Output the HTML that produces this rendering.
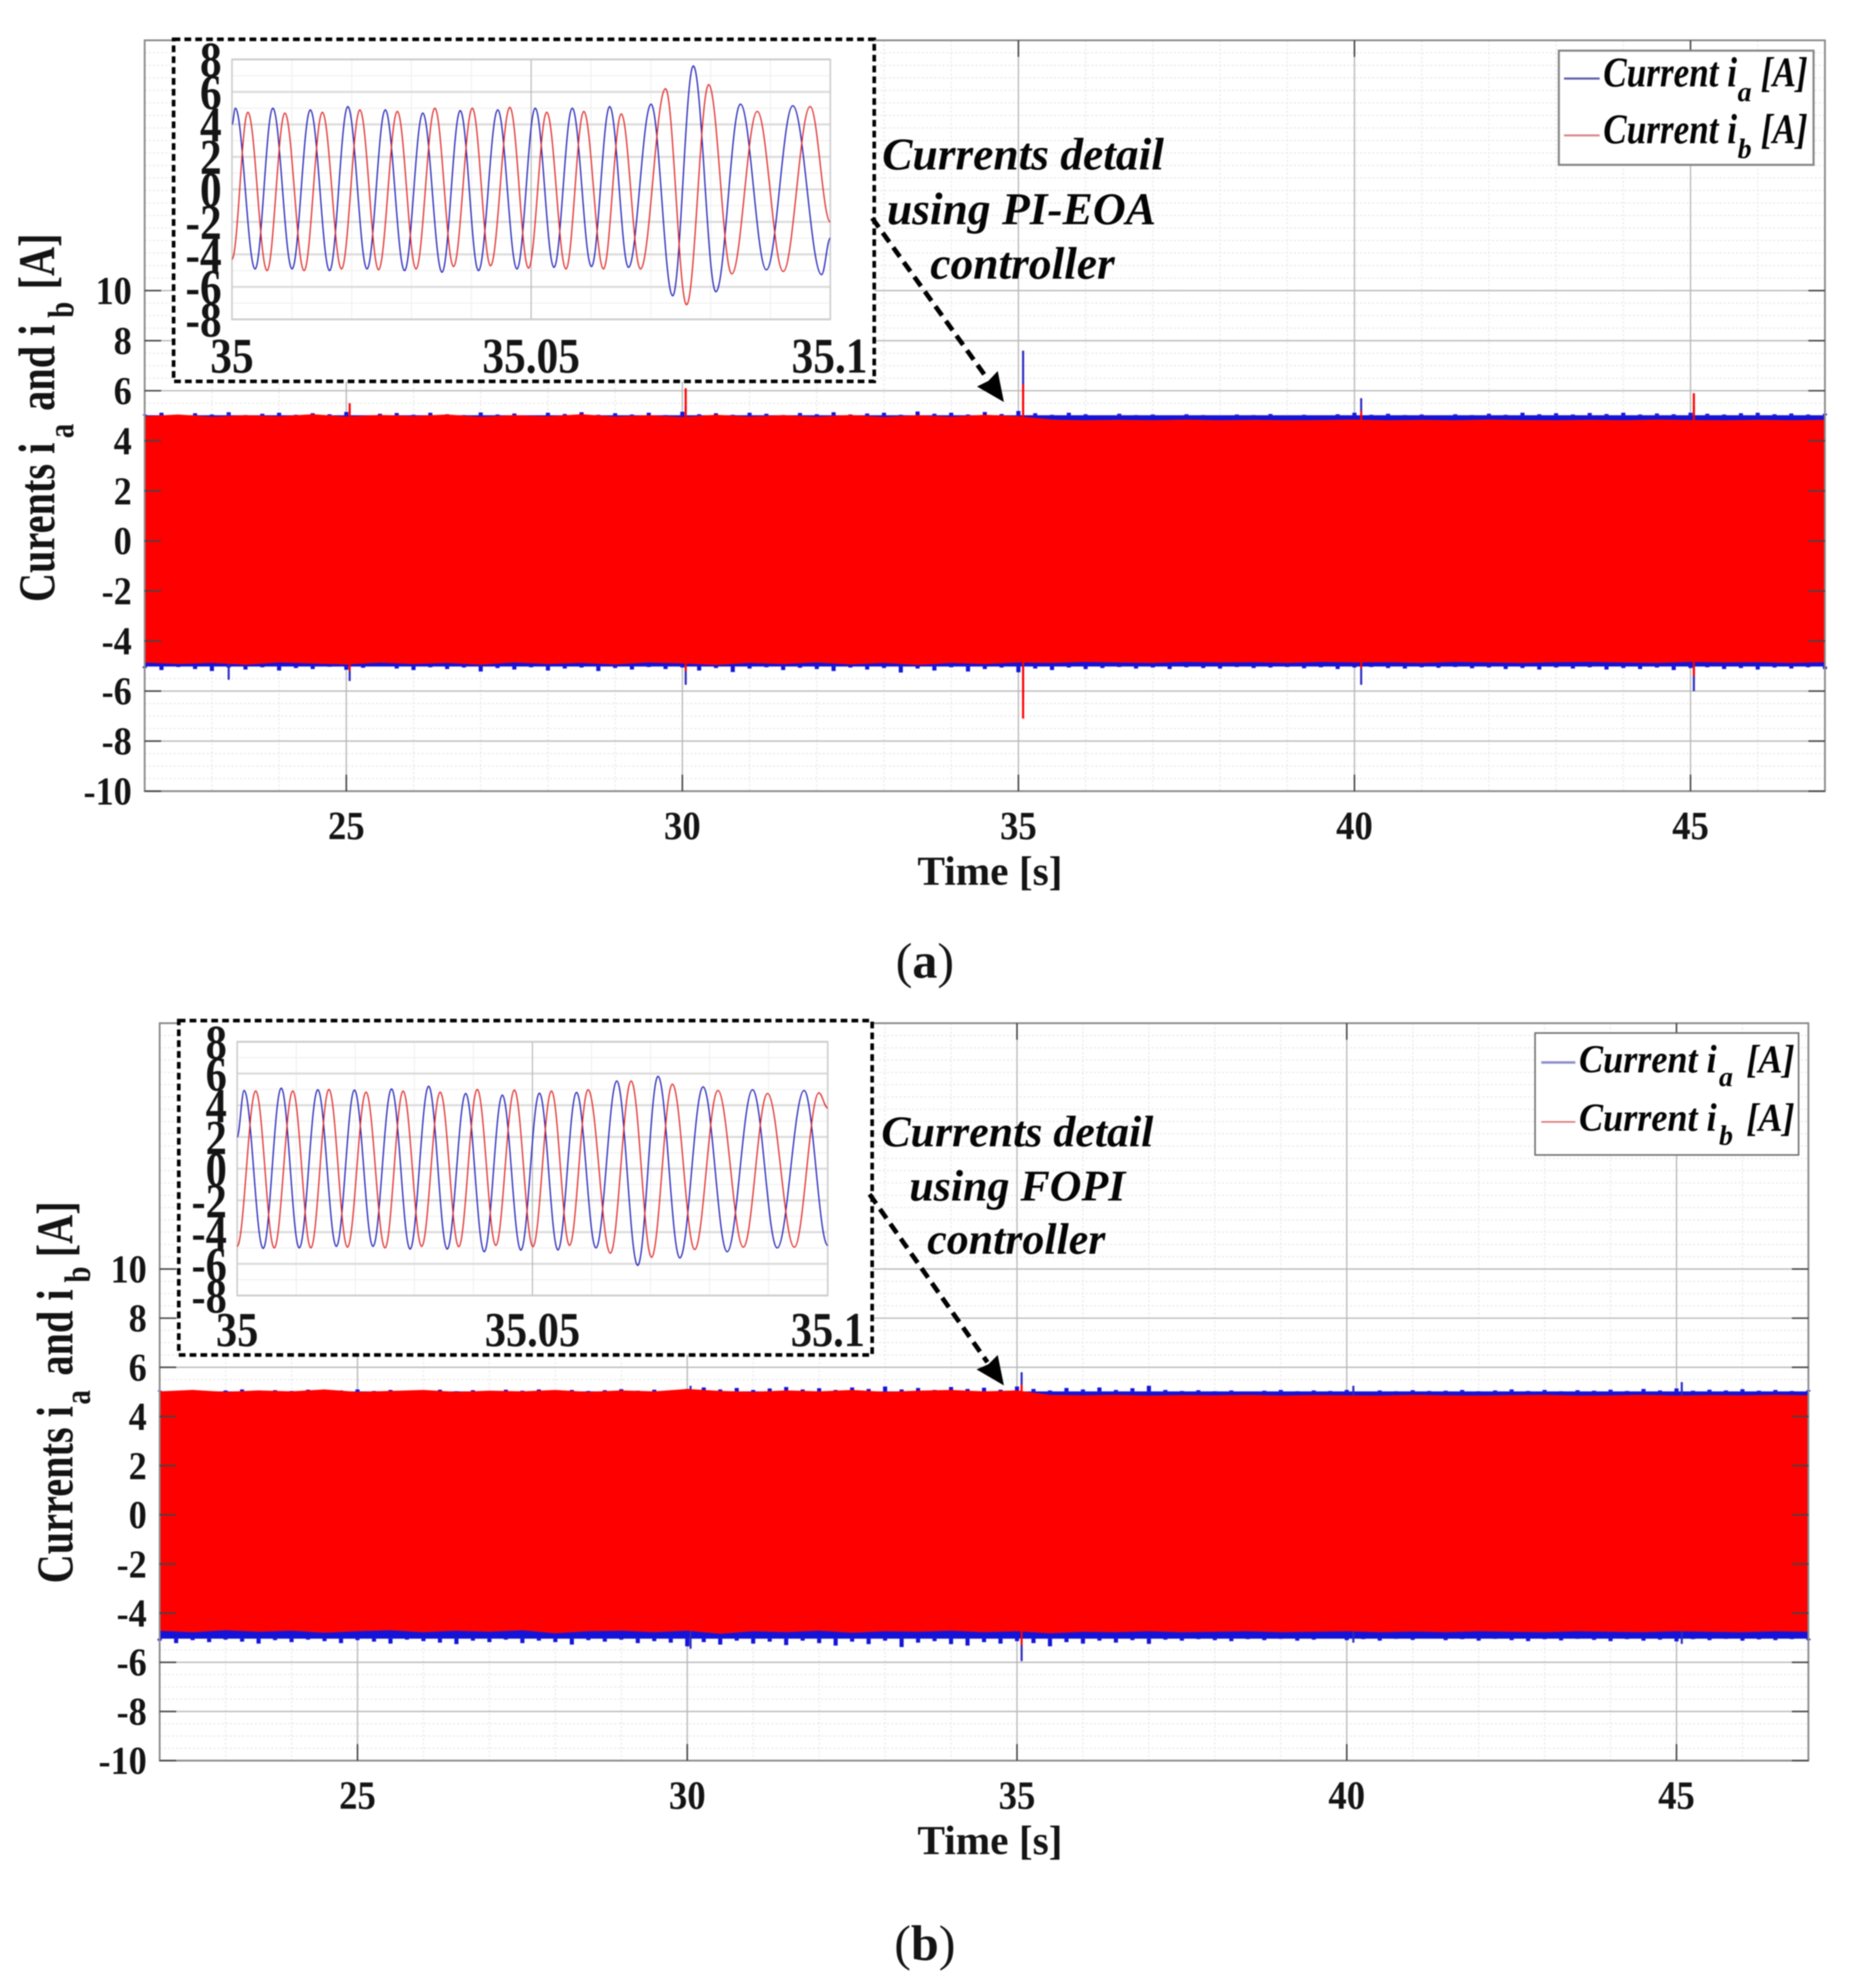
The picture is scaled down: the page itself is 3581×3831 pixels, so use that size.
<!DOCTYPE html>
<html lang="en">
<head>
<meta charset="utf-8">
<title>Currents detail using PI-EOA and FOPI controllers</title>
<style>
html,body{margin:0;padding:0;background:#fff;}
#figure{display:block;width:3581px;height:3831px;filter:blur(1.1px);}
text{font-family:"Liberation Serif",serif;fill:#141414;}
.b{font-weight:bold;}
.bi{font-weight:bold;font-style:italic;fill:#050505;}
</style>
</head>
<body>
<svg id="figure" xmlns="http://www.w3.org/2000/svg" width="3581" height="3831" viewBox="0 0 3596 3847">
  <rect x="0" y="0" width="3596" height="3847" fill="#fff"/>
  <g id="panelA"></g>
  <g id="panelB"></g>

  <g>
    <rect x="3017" y="98" width="493" height="221" fill="#fff" stroke="#858585" stroke-width="4"/>
    <line x1="3027" y1="152" x2="3096" y2="152" stroke="#5a5aa8" stroke-width="4"/>
    <line x1="3027" y1="262" x2="3096" y2="262" stroke="#d98585" stroke-width="4"/>
    <text class="bi" transform="translate(3103,167) scale(1,1.2)" font-size="68">Current i</text>
    <text class="bi" x="3363" y="196" font-size="54">a</text>
    <text class="bi" transform="translate(3408,167) scale(1,1.2)" font-size="68">[A]</text>
    <text class="bi" transform="translate(3103,277) scale(1,1.2)" font-size="68">Current i</text>
    <text class="bi" x="3363" y="306" font-size="54">b</text>
    <text class="bi" transform="translate(3408,277) scale(1,1.2)" font-size="68">[A]</text>
  </g>
  <g>
    <rect x="2971" y="1999" width="510" height="236" fill="#fff" stroke="#6e6e6e" stroke-width="3"/>
    <line x1="2983" y1="2056" x2="3049" y2="2056" stroke="#8f8fd0" stroke-width="5"/>
    <line x1="2983" y1="2171" x2="3049" y2="2171" stroke="#e07070" stroke-width="3"/>
    <text class="bi" transform="translate(3056,2075) scale(1,1.1)" font-size="70">Current i</text>
    <text class="bi" x="3327" y="2102" font-size="54">a</text>
    <text class="bi" transform="translate(3380,2075) scale(1,1.1)" font-size="70">[A]</text>
    <text class="bi" transform="translate(3056,2188) scale(1,1.1)" font-size="70">Current i</text>
    <text class="bi" x="3327" y="2215" font-size="54">b</text>
    <text class="bi" transform="translate(3380,2188) scale(1,1.1)" font-size="70">[A]</text>
  </g>

  <g text-anchor="middle">
    <text class="bi" x="1980" y="328" font-size="88">Currents detail</text>
    <text class="bi" x="1977" y="434" font-size="88">using PI-EOA</text>
    <text class="bi" x="1979" y="539" font-size="88">controller</text>
  </g>
  <g text-anchor="middle">
    <text class="bi" x="1969" y="2218" font-size="85">Currents detail</text>
    <text class="bi" x="1969" y="2323" font-size="85">using FOPI</text>
    <text class="bi" x="1967" y="2426" font-size="85">controller</text>
  </g>

  <g>
    <line x1="1688" y1="422" x2="1911" y2="733" stroke="#000" stroke-width="9" stroke-dasharray="22 13"/>
    <polygon points="1943,778 1931,718 1913,737 1891,748" fill="#000"/>
  </g>
  <g>
    <line x1="1683" y1="2311" x2="1911" y2="2636" stroke="#000" stroke-width="9" stroke-dasharray="22 13"/>
    <polygon points="1943,2681 1931,2622 1913,2640 1890,2650" fill="#000"/>
  </g>

  <text x="1790" y="1892" text-anchor="middle" font-size="97">(<tspan font-weight="bold">a</tspan>)</text>
  <text x="1790" y="3793" text-anchor="middle" font-size="97">(<tspan font-weight="bold">b</tspan>)</text>
</svg>

<script>
// ---------- shared tick values ----------
const xTickValues = [25, 30, 35, 40, 45];
const yTickValues = [-10, -8, -6, -4, -2, 0, 2, 4, 6, 8, 10];
const insetXTickValues = [35, 35.05, 35.1];
const insetXTickLabels = ['35', '35.05', '35.1'];
const insetYTickValues = [-8, -6, -4, -2, 0, 2, 4, 6, 8];

// ---------- panel (a) main-trace envelope, sampled every 0.25 s (blue) / 0.5 s (red) from 22 s ----------
const aBlueUpper = [
5.05,5.12,5.02,5.10,5.05,5.14,5.03,5.08,5.12,5.04,5.10,5.06,5.15,5.02,5.08,5.11,5.04,5.12,5.06,5.03,
5.13,5.05,5.09,5.02,5.12,5.07,5.14,5.04,5.10,5.05,5.12,5.03,5.16,5.06,5.10,5.04,5.12,5.08,5.03,5.11,
5.06,5.14,5.05,5.09,5.12,5.04,5.17,5.08,5.12,5.05,5.15,5.07,5.19,5.10,5.04,5.12,5.06,5.02,5.08,5.03,
5.05,5.02,5.06,5.03,5.02,5.05,5.03,5.07,5.02,5.04,5.02,5.06,5.12,5.04,5.08,5.03,5.05,5.02,5.06,5.03,
5.08,5.04,5.12,5.06,5.10,5.05,5.11,5.07,5.12,5.05,5.09,5.06,5.12,5.08,5.05,5.10,5.12,5.06,5.09,5.05,5.08];
const aBlueLower = [
-5.08,-5.16,-5.04,-5.12,-5.20,-5.06,-5.14,-5.05,-5.18,-5.08,-5.12,-5.03,-5.15,-5.07,-5.02,-5.10,-5.16,-5.05,-5.12,-5.06,
-5.22,-5.08,-5.14,-5.05,-5.18,-5.10,-5.06,-5.20,-5.08,-5.14,-5.04,-5.12,-5.06,-5.18,-5.08,-5.24,-5.10,-5.05,-5.16,-5.07,
-5.12,-5.20,-5.06,-5.14,-5.08,-5.26,-5.10,-5.18,-5.05,-5.22,-5.12,-5.06,-5.25,-5.10,-5.16,-5.06,-5.12,-5.08,-5.04,-5.10,
-5.06,-5.12,-5.05,-5.08,-5.10,-5.04,-5.08,-5.06,-5.04,-5.09,-5.05,-5.12,-5.06,-5.04,-5.08,-5.10,-5.05,-5.07,-5.04,-5.09,
-5.06,-5.12,-5.08,-5.14,-5.06,-5.10,-5.05,-5.14,-5.08,-5.12,-5.06,-5.16,-5.08,-5.05,-5.12,-5.08,-5.14,-5.06,-5.10,-5.05,-5.12];
const aRedUpper = [4.98,5.05,4.96,5.02,4.98,5.06,4.97,5.03,4.99,5.05,4.96,5.02,4.98,5.06,4.97,5.02,4.95,5.04,4.97,5.02,4.96,5.03,4.95,5.02,4.96,5.04,4.98,4.85,4.82,4.84,4.82,4.85,4.82,4.84,4.82,4.83,4.85,4.82,4.84,4.82,4.85,4.83,4.82,4.84,4.82,4.85,4.83,4.82,4.84,4.82,4.84];
const aRedLower = [-4.86,-4.92,-4.88,-4.95,-4.86,-4.90,-4.94,-4.87,-4.92,-4.88,-4.95,-4.86,-4.92,-4.88,-4.94,-4.86,-4.90,-4.96,-4.88,-4.92,-4.86,-4.94,-4.88,-4.96,-4.88,-4.92,-4.86,-4.88,-4.84,-4.86,-4.88,-4.84,-4.86,-4.85,-4.88,-4.84,-4.86,-4.85,-4.88,-4.84,-4.86,-4.88,-4.85,-4.84,-4.86,-4.88,-4.84,-4.86,-4.85,-4.88,-4.85];
const aBlueSpikeTimes = [23.25, 25.05, 30.05, 35.07, 40.1, 45.05];
const aBlueSpikeHigh = [5.1, 5.3, 5.4, 7.6, 5.7, 5.4];
const aBlueSpikeLow = [-5.55, -5.6, -5.75, -6.3, -5.75, -6.0];
const aRedSpikeTimes = [25.05, 30.05, 35.07, 40.1, 45.05];
const aRedSpikeHigh = [5.5, 6.1, 6.25, 5.2, 5.9];
const aRedSpikeLow = [-5.2, -5.2, -7.1, -5.1, -5.4];

// ---------- panel (b) main-trace envelope ----------
const bBlueUpper = [
5.05,5.02,5.08,5.03,5.06,5.10,5.02,5.07,5.04,5.09,5.03,5.06,5.10,5.04,5.08,5.02,5.06,5.09,5.03,5.07,
5.04,5.09,5.05,5.10,5.03,5.08,5.04,5.07,5.11,5.05,5.09,5.04,5.12,5.18,5.10,5.16,5.08,5.14,5.20,5.10,
5.15,5.08,5.18,5.12,5.22,5.10,5.16,5.08,5.20,5.12,5.17,5.09,5.22,5.12,5.06,5.16,5.10,5.18,5.08,5.15,
5.25,5.08,5.04,5.07,5.03,5.06,5.02,5.05,5.08,5.03,5.06,5.04,5.08,5.02,5.06,5.03,5.07,5.04,5.05,5.08,
5.03,5.06,5.10,5.04,5.08,5.03,5.07,5.05,5.09,5.04,5.12,5.06,5.14,5.05,5.09,5.06,5.11,5.05,5.08,5.04,5.07];
const bBlueLower = [
-5.12,-5.22,-5.10,-5.18,-5.08,-5.16,-5.24,-5.10,-5.18,-5.08,-5.14,-5.22,-5.10,-5.16,-5.24,-5.08,-5.14,-5.20,-5.26,-5.12,
-5.18,-5.08,-5.22,-5.12,-5.18,-5.28,-5.10,-5.16,-5.08,-5.22,-5.14,-5.20,-5.35,-5.18,-5.28,-5.12,-5.24,-5.16,-5.30,-5.12,
-5.22,-5.32,-5.16,-5.26,-5.12,-5.38,-5.20,-5.14,-5.26,-5.32,-5.18,-5.24,-5.14,-5.22,-5.35,-5.18,-5.24,-5.12,-5.20,-5.10,
-5.25,-5.08,-5.12,-5.06,-5.10,-5.14,-5.06,-5.10,-5.05,-5.12,-5.08,-5.04,-5.10,-5.06,-5.12,-5.05,-5.09,-5.04,-5.10,-5.06,
-5.12,-5.05,-5.10,-5.14,-5.06,-5.11,-5.05,-5.09,-5.14,-5.06,-5.12,-5.08,-5.15,-5.06,-5.10,-5.05,-5.12,-5.07,-5.10,-5.06,-5.10];
const bRedUpper = [5.02,5.08,5.00,5.06,5.02,5.10,5.00,5.04,5.08,5.00,5.05,5.02,5.08,5.00,5.06,5.02,5.12,5.04,5.00,5.06,5.02,5.08,5.00,5.05,5.08,5.02,5.06,4.88,4.86,4.88,4.85,4.87,4.86,4.88,4.85,4.87,4.86,4.85,4.88,4.86,4.85,4.87,4.88,4.85,4.86,4.88,4.85,4.87,4.86,4.88,4.86];
const bRedLower = [-4.72,-4.78,-4.70,-4.76,-4.72,-4.80,-4.74,-4.70,-4.78,-4.72,-4.76,-4.70,-4.82,-4.74,-4.72,-4.78,-4.72,-4.84,-4.74,-4.78,-4.72,-4.80,-4.74,-4.76,-4.72,-4.78,-4.74,-4.82,-4.76,-4.78,-4.74,-4.78,-4.76,-4.74,-4.78,-4.76,-4.74,-4.78,-4.75,-4.78,-4.74,-4.76,-4.78,-4.74,-4.76,-4.78,-4.74,-4.76,-4.78,-4.74,-4.76];
const bBlueSpikeTimes = [30.05, 35.07, 40.1, 45.08];
const bBlueSpikeHigh = [5.25, 5.8, 5.25, 5.4];
const bBlueSpikeLow = [-5.45, -5.95, -5.2, -5.25];
const bRedSpikeTimes = [35.07];
const bRedSpikeHigh = [5.3];
const bRedSpikeLow = [-5.3];

// ---------- inset (a) turning points: time in ms after 35 s, current in A ----------
const aInsetBlueTimes = [0,.56,3.86,6.83,10.04,13.09,16.31,19.36,22.57,25.62,28.84,31.89,35.10,38.15,41.2,44.42,47.63,50.68,53.82,56.87,60.08,63.13,66.27,70.04,73.65,77.11,80.88,84.98,89.32,93.73,98.55,100];
const aInsetBlueValues = [4.0,5.0,-4.9,5.0,-4.9,4.9,-5.0,5.1,-4.9,4.9,-5.0,4.7,-5.1,4.85,-5.0,4.9,-4.9,5.0,-4.8,5.0,-4.75,5.1,-4.8,5.25,-6.55,7.6,-6.3,5.25,-4.95,5.15,-5.25,-3.0];
const aInsetRedTimes = [0,2.65,5.86,8.84,12.05,15.1,18.31,21.37,24.5,27.63,30.76,33.9,37.03,40.16,43.21,46.43,49.56,52.61,55.82,58.8,62.09,65.06,68.27,72.45,75.98,79.68,83.53,87.79,92.13,96.63,100];
const aInsetRedValues = [-4.3,4.75,-5.0,4.7,-5.0,4.75,-4.9,4.9,-4.95,4.8,-4.9,5.0,-4.75,5.0,-4.7,5.05,-4.85,4.75,-4.9,4.8,-4.9,4.65,-4.9,6.2,-7.1,6.45,-5.2,4.8,-5.05,5.1,-2.0];

// ---------- inset (b) turning points ----------
const bInsetBlueTimes = [0,1.18,4.4,7.46,10.52,13.66,16.8,19.86,23,26.14,29.28,32.42,35.56,38.7,41.84,44.9,48.04,51.18,54.32,57.46,60.75,64.29,67.82,71.27,74.96,78.89,82.97,87.28,91.44,96,100];
const bInsetBlueValues = [2.0,4.93,-5.03,5.08,-5.0,4.98,-4.9,4.96,-4.9,5.03,-5.07,5.2,-5.07,4.74,-5.24,4.64,-5.14,4.76,-5.13,4.81,-5.0,5.53,-6.1,5.82,-5.63,5.16,-5.24,4.98,-5.0,4.93,-4.84];
const bInsetRedTimes = [0,3.14,6.28,9.42,12.48,15.54,18.68,21.82,25.04,28.1,31.24,34.38,37.52,40.66,43.8,46.94,50.08,53.22,56.28,59.42,63.19,66.72,70.17,73.7,77.47,81.4,85.71,89.8,94.35,98.5,100];
const bInsetRedValues = [-4.9,4.9,-5.0,4.9,-5.0,5.0,-4.95,4.83,-5.0,4.89,-4.9,4.83,-4.92,5.0,-4.84,4.96,-4.92,4.9,-4.84,4.98,-5.33,5.53,-5.59,5.33,-5.1,4.93,-4.95,4.74,-4.95,4.78,3.82];

const SVGNS = 'http://www.w3.org/2000/svg';
function node(parent, tag, attrs, txt) {
  const el = document.createElementNS(SVGNS, tag);
  for (const k in attrs) el.setAttribute(k, attrs[k]);
  if (txt !== undefined) el.textContent = txt;
  parent.appendChild(el);
  return el;
}
function linear(d0, d1, r0, r1) {
  return v => r0 + (v - d0) * (r1 - r0) / (d1 - d0);
}
function stretchedText(parent, x, y, size, sy, anchor, cls, str) {
  return node(parent, 'text', {transform: 'translate(' + x + ',' + y + ') scale(1,' + sy + ')', 'font-size': size, 'text-anchor': anchor, class: cls}, str);
}
function rotatedText(parent, x, y, size, cls, str) {
  return node(parent, 'text', {transform: 'translate(' + x + ',' + y + ') rotate(-90) scale(1,1.28)', 'font-size': size, class: cls}, str);
}
// smooth wave through turning points: zero slope at every listed point
function wavePath(ts, vs, sx, sy) {
  let d = 'M' + sx(ts[0]).toFixed(1) + ' ' + sy(vs[0]).toFixed(1);
  for (let i = 1; i < ts.length; i++) {
    const x0 = sx(ts[i - 1]), x1 = sx(ts[i]), y0 = sy(vs[i - 1]), y1 = sy(vs[i]);
    const k = (x1 - x0) * 0.3642;
    d += 'C' + (x0 + k).toFixed(1) + ' ' + y0.toFixed(1) + ' ' + (x1 - k).toFixed(1) + ' ' + y1.toFixed(1) + ' ' + x1.toFixed(1) + ' ' + y1.toFixed(1);
  }
  return d;
}
function bandPoints(upper, lower, step, sx, sy) {
  const pts = [];
  upper.forEach((v, i) => pts.push(sx(22 + i * step).toFixed(1) + ',' + sy(v).toFixed(1)));
  for (let i = lower.length - 1; i >= 0; i--) pts.push(sx(22 + i * step).toFixed(1) + ',' + sy(lower[i]).toFixed(1));
  return pts.join(' ');
}

function drawMain(root, box, d) {
  const sx = linear(22, 47, box.left, box.right);
  const sy = linear(-10, 20, box.bottom, box.top);

  const minor = node(root, 'g', {stroke: '#ebebeb', 'stroke-width': 2.5, 'stroke-dasharray': '4 4', fill: 'none'});
  
  
  for (let t = 23; t < 47; t++) node(minor, 'line', {x1: sx(t), x2: sx(t), y1: box.top, y2: box.bottom});
  for (let v = -9.5; v < 20; v += 0.5) node(minor, 'line', {x1: box.left, x2: box.right, y1: sy(v), y2: sy(v)});

  const major = node(root, 'g', {stroke: '#b8b8b8', 'stroke-width': 2.5, fill: 'none'});
  
  
  xTickValues.forEach(t => node(major, 'line', {x1: sx(t), x2: sx(t), y1: box.top, y2: box.bottom}));
  yTickValues.forEach(v => node(major, 'line', {x1: box.left, x2: box.right, y1: sy(v), y2: sy(v)}));

  const blueBaseTop = Math.min(...d.blueUpper);
  const blueBaseBottom = Math.max(...d.blueLower);
  const blueBand = node(root, 'rect', {x: box.left, y: sy(blueBaseTop), width: box.right - box.left, height: sy(blueBaseBottom) - sy(blueBaseTop), fill: '#1414d8'});
  
  
  const blueFringe = node(root, 'g', {stroke: '#1414d8', 'stroke-width': 8});
  
  
  d.blueUpper.forEach((v, i) => node(blueFringe, 'line', {x1: sx(22 + i * 0.25), x2: sx(22 + i * 0.25), y1: sy(v), y2: sy(blueBaseTop)}));
  d.blueLower.forEach((v, i) => node(blueFringe, 'line', {x1: sx(22 + i * 0.25), x2: sx(22 + i * 0.25), y1: sy(v), y2: sy(blueBaseBottom)}));
  const blueSpikes = node(root, 'g', {stroke: '#2a2ac0', 'stroke-width': 4});
  
  
  d.blueSpikeTimes.forEach((t, i) => node(blueSpikes, 'line', {x1: sx(t), x2: sx(t), y1: sy(d.blueSpikeHigh[i]), y2: sy(d.blueSpikeLow[i])}));

  const redBand = node(root, 'polygon', {points: bandPoints(d.redUpper, d.redLower, 0.5, sx, sy), fill: '#ff0000'});
  
  
  const redSpikes = node(root, 'g', {stroke: '#ff0000', 'stroke-width': 4});
  
  
  d.redSpikeTimes.forEach((t, i) => node(redSpikes, 'line', {x1: sx(t), x2: sx(t), y1: sy(d.redSpikeHigh[i]), y2: sy(d.redSpikeLow[i])}));

  const frame = node(root, 'rect', {x: box.left, y: box.top, width: box.right - box.left, height: box.bottom - box.top, fill: 'none', stroke: '#8a8a8a', 'stroke-width': 3.5});
  
  

  const ticks = node(root, 'g', {stroke: '#444', 'stroke-width': 3});
  
  
  xTickValues.forEach(t => {
    node(ticks, 'line', {x1: sx(t), x2: sx(t), y1: box.bottom, y2: box.bottom - 32});
    node(ticks, 'line', {x1: sx(t), x2: sx(t), y1: box.top, y2: box.top + 32});
  });
  yTickValues.forEach(v => {
    node(ticks, 'line', {x1: box.left, x2: box.left + 32, y1: sy(v), y2: sy(v)});
    node(ticks, 'line', {x1: box.right, x2: box.right - 32, y1: sy(v), y2: sy(v)});
  });

  xTickValues.forEach(t => {
    const lab = stretchedText(root, sx(t), box.xLabelY, 71, 1.1, 'middle', 'b', String(t));
    
    
  });
  yTickValues.forEach(v => {
    const lab = stretchedText(root, box.left - 25, sy(v) + 26, 70, 1.1, 'end', 'b', String(v));
    
    
  });

  const xTitle = node(root, 'text', {x: box.xTitleX, y: box.xTitleY, 'font-size': 80, 'text-anchor': 'middle', class: 'b'}, 'Time [s]');
  
  

  box.yTitle.forEach(seg => {
    const t = rotatedText(root, seg.x, seg.y, seg.size, 'b', seg.str);
    
    
  });
}

function drawInset(root, box, d) {
  const outer = node(root, 'rect', {x: box.bx0, y: box.by0, width: box.bx1 - box.bx0, height: box.by1 - box.by0, fill: '#fff', stroke: '#000', 'stroke-width': 7, 'stroke-dasharray': '13 8'});
  
  

  const sx = linear(35, 35.1, box.left, box.right);
  const sm = linear(0, 100, box.left, box.right);
  const sy = linear(-8, 8, box.bottom, box.top);

  const minor = node(root, 'g', {stroke: '#f0f0f0', 'stroke-width': 2, fill: 'none'});
  
  
  for (let m = 10; m < 100; m += 10) node(minor, 'line', {x1: sm(m), x2: sm(m), y1: box.top, y2: box.bottom});
  for (let v = -7; v < 8; v += 2) node(minor, 'line', {x1: box.left, x2: box.right, y1: sy(v), y2: sy(v)});

  const major = node(root, 'g', {stroke: '#dcdcdc', 'stroke-width': 4, fill: 'none'});
  
  
  insetYTickValues.forEach(v => node(major, 'line', {x1: box.left, x2: box.right, y1: sy(v), y2: sy(v)}));
  const mid = node(root, 'line', {x1: sx(35.05), x2: sx(35.05), y1: box.top, y2: box.bottom, stroke: '#b4b4b4', 'stroke-width': 2});
  
  

  const frame = node(root, 'rect', {x: box.left, y: box.top, width: box.right - box.left, height: box.bottom - box.top, fill: 'none', stroke: '#cccccc', 'stroke-width': 3});
  
  

  const blue = node(root, 'path', {d: wavePath(d.blueTimes, d.blueValues, sm, sy), fill: 'none', stroke: '#2020b8', 'stroke-width': 2.4});
  
  
  const red = node(root, 'path', {d: wavePath(d.redTimes, d.redValues, sm, sy), fill: 'none', stroke: '#e02a2a', 'stroke-width': 2.4});
  
  

  insetYTickValues.forEach(v => {
    const lab = stretchedText(root, box.yLabelX, sy(v) + 33, box.fontSize, 1.15, 'end', 'b', String(v));
    
    
  });
  insetXTickValues.forEach((t, i) => {
    const anchor = i === 2 ? 'end' : 'middle';
    const x = i === 2 ? box.right + 72 : sx(t);
    const lab = stretchedText(root, x, box.xLabelY, box.fontSize, 1.15, anchor, 'b', insetXTickLabels[i]);
    
    
  });
}

drawMain(document.getElementById('panelA'),
  {left: 280, right: 3532, top: 78, bottom: 1531, xLabelY: 1624, xTitleX: 1916, xTitleY: 1712,
   yTitle: [
     {x: 105, y: 1165, size: 78, str: 'Curents i'},
     {x: 142, y: 848, size: 56, str: 'a'},
     {x: 105, y: 795, size: 78, str: 'and i'},
     {x: 142, y: 615, size: 56, str: 'b'},
     {x: 105, y: 560, size: 78, str: '[A]'}
   ]},
  {blueUpper: aBlueUpper, blueLower: aBlueLower, redUpper: aRedUpper, redLower: aRedLower,
   blueSpikeTimes: aBlueSpikeTimes, blueSpikeHigh: aBlueSpikeHigh, blueSpikeLow: aBlueSpikeLow,
   redSpikeTimes: aRedSpikeTimes, redSpikeHigh: aRedSpikeHigh, redSpikeLow: aRedSpikeLow});

drawMain(document.getElementById('panelB'),
  {left: 309, right: 3500, top: 1980, bottom: 3407, xLabelY: 3500, xTitleX: 1916, xTitleY: 3588,
   yTitle: [
     {x: 140, y: 3064, size: 78, str: 'Currents i'},
     {x: 174, y: 2718, size: 56, str: 'a'},
     {x: 140, y: 2662, size: 78, str: 'and i'},
     {x: 174, y: 2482, size: 56, str: 'b'},
     {x: 140, y: 2433, size: 78, str: '[A]'}
   ]},
  {blueUpper: bBlueUpper, blueLower: bBlueLower, redUpper: bRedUpper, redLower: bRedLower,
   blueSpikeTimes: bBlueSpikeTimes, blueSpikeHigh: bBlueSpikeHigh, blueSpikeLow: bBlueSpikeLow,
   redSpikeTimes: bRedSpikeTimes, redSpikeHigh: bRedSpikeHigh, redSpikeLow: bRedSpikeLow});

drawInset(document.getElementById('panelA'),
  {bx0: 336, by0: 76, bx1: 1692, by1: 738, left: 449, right: 1607, top: 115, bottom: 618, yLabelX: 429, xLabelY: 721, fontSize: 84},
  {blueTimes: aInsetBlueTimes, blueValues: aInsetBlueValues, redTimes: aInsetRedTimes, redValues: aInsetRedValues});

drawInset(document.getElementById('panelB'),
  {bx0: 346, by0: 1975, bx1: 1688, by1: 2622, left: 459, right: 1602, top: 2016, bottom: 2507, yLabelX: 439, xLabelY: 2605, fontSize: 82},
  {blueTimes: bInsetBlueTimes, blueValues: bInsetBlueValues, redTimes: bInsetRedTimes, redValues: bInsetRedValues});
</script>
</body>
</html>
